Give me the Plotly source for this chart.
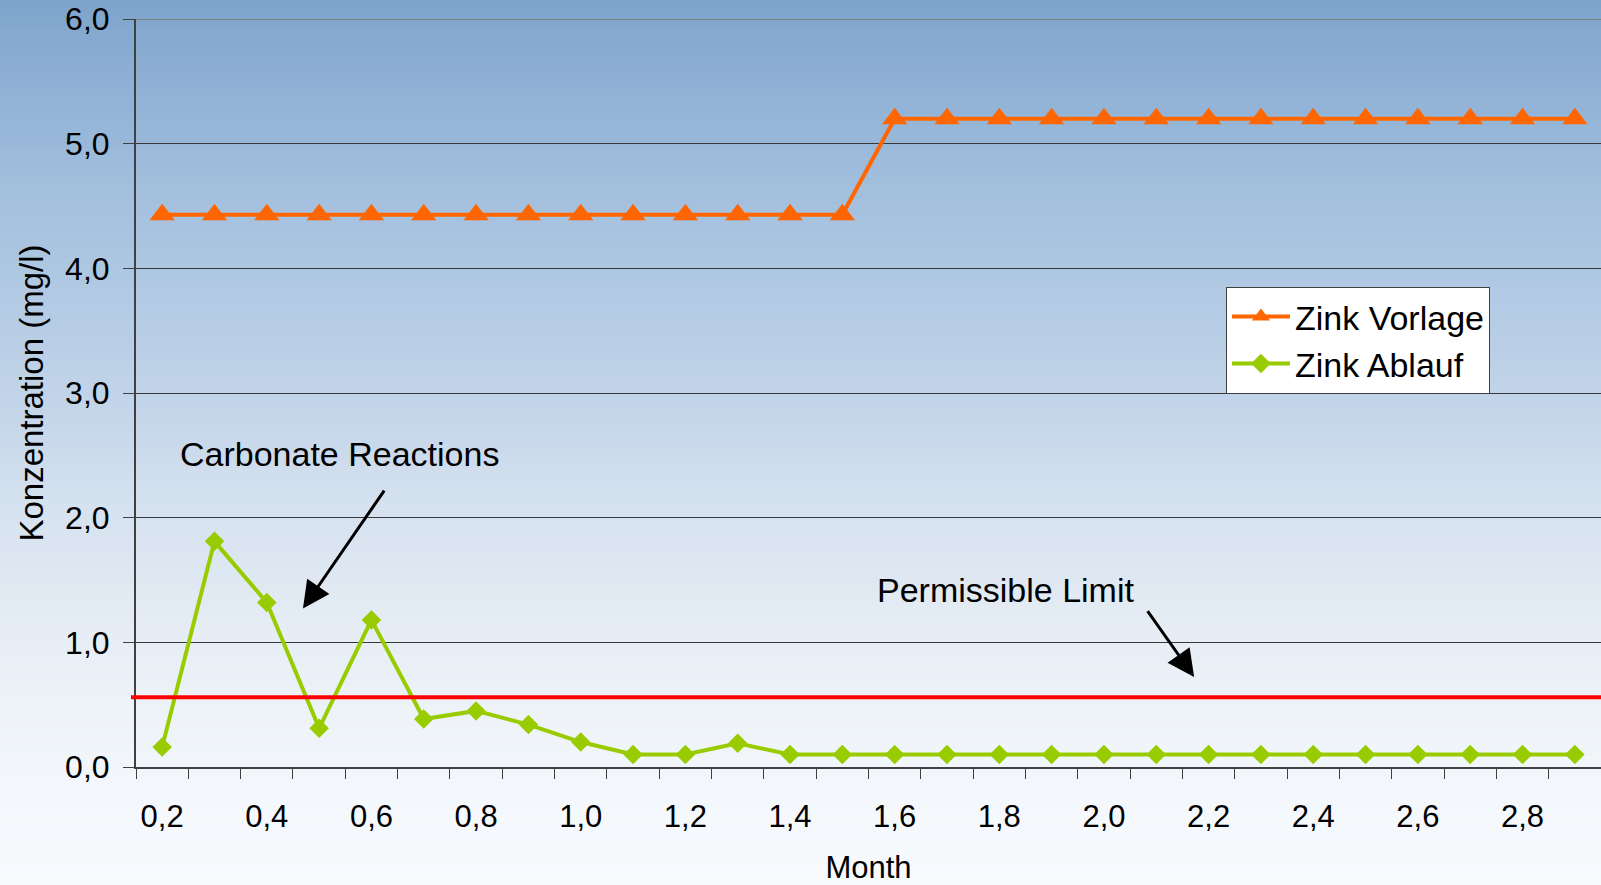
import plotly.graph_objects as go

# Sampling months and measured zinc concentrations (mg/l)
month = [0.2, 0.3, 0.4, 0.5, 0.6, 0.7, 0.8, 0.9, 1.0, 1.1, 1.2, 1.3, 1.4, 1.5,
         1.6, 1.7, 1.8, 1.9, 2.0, 2.1, 2.2, 2.3, 2.4, 2.5, 2.6, 2.7, 2.8, 2.9]
zink_vorlage = [4.43, 4.43, 4.43, 4.43, 4.43, 4.43, 4.43, 4.43, 4.43, 4.43, 4.43, 4.43, 4.43, 4.43,
                5.20, 5.20, 5.20, 5.20, 5.20, 5.20, 5.20, 5.20, 5.20, 5.20, 5.20, 5.20, 5.20, 5.20]
zink_ablauf = [0.16, 1.81, 1.32, 0.31, 1.18, 0.385, 0.45, 0.34, 0.20, 0.10, 0.10, 0.19, 0.10, 0.10,
               0.10, 0.10, 0.10, 0.10, 0.10, 0.10, 0.10, 0.10, 0.10, 0.10, 0.10, 0.10, 0.10, 0.10]
permissible_limit = 0.56
x_labels = [0.2, 0.4, 0.6, 0.8, 1.0, 1.2, 1.4, 1.6, 1.8, 2.0, 2.2, 2.4, 2.6, 2.8]
y_labels = [0, 1, 2, 3, 4, 5, 6]

W, H = 1601, 885
M_L, M_R, M_T, M_B = 136, 0, 19, 118
X_RANGE = [0.15, 2.95]
Y_RANGE = [0, 6]
FONT = "Liberation Sans, Arial, sans-serif"

fig = go.Figure()

fig.add_trace(go.Scatter(
    x=month, y=zink_vorlage, name="Zink Vorlage", mode="lines+markers",
    line=dict(color="#FF6600", width=4),
    marker=dict(symbol="triangle-up", size=22, color="#FF6600"),
))
fig.add_trace(go.Scatter(
    x=month, y=zink_ablauf, name="Zink Ablauf", mode="lines+markers",
    line=dict(color="#99CC00", width=4),
    marker=dict(symbol="diamond", size=15, color="#99CC00"),
))

# Background: soft vertical blue-to-white gradient across the whole canvas
stops = [(0, (126, 164, 203)), (100, (146, 179, 214)), (200, (164, 192, 222)),
         (300, (178, 202, 227)), (400, (194, 212, 233)), (500, (212, 225, 239)),
         (600, (226, 234, 243)), (700, (237, 242, 248)), (800, (244, 248, 252)),
         (885, (248, 251, 254))]
plot_h = H - M_T - M_B
plot_w = W - M_L - M_R


def py_to_paper(py):
    return (H - M_B - py) / plot_h


def color_at(py):
    for (y0, c0), (y1, c1) in zip(stops[:-1], stops[1:]):
        if y0 <= py <= y1:
            t = (py - y0) / (y1 - y0)
            return "rgb(%d,%d,%d)" % tuple(round(a + (b - a) * t) for a, b in zip(c0, c1))
    return "rgb(%d,%d,%d)" % stops[-1][1]


shapes = []
step = 6
for py in range(0, H, step):
    shapes.append(dict(
        type="rect", xref="paper", yref="paper", layer="below",
        x0=-M_L / plot_w - 0.01, x1=1.01,
        y0=py_to_paper(py + step + 1), y1=py_to_paper(py),
        fillcolor=color_at(py + step / 2), line=dict(width=0),
    ))

# Top border of the plot area
shapes.append(dict(type="line", xref="paper", yref="y", x0=0, x1=1, y0=6, y1=6,
                   line=dict(color="#7f7f7f", width=2), layer="above"))
# Permissible limit line
shapes.append(dict(type="line", xref="paper", yref="y", x0=-5 / plot_w, x1=1,
                   y0=permissible_limit, y1=permissible_limit,
                   line=dict(color="#FF0000", width=4), layer="above"))

annotations = [
    dict(text="Carbonate Reactions", x=0.5395, y=2.51, xref="x", yref="y",
         showarrow=False, font=dict(size=34, color="black", family=FONT)),
    dict(text="", x=0.4691, y=1.271, ax=0.6264, ay=2.229, xref="x", yref="y",
         axref="x", ayref="y", showarrow=True, arrowhead=2, arrowsize=1.8,
         arrowwidth=3, arrowcolor="black"),
    dict(text="Permissible Limit", x=1.8123, y=1.42, xref="x", yref="y",
         showarrow=False, font=dict(size=34, color="black", family=FONT)),
    dict(text="", x=2.1724, y=0.722, ax=2.0814, ay=1.263, xref="x", yref="y",
         axref="x", ayref="y", showarrow=True, arrowhead=2, arrowsize=1.8,
         arrowwidth=3, arrowcolor="black"),
]

fig.update_layout(
    width=W, height=H, autosize=False,
    margin=dict(l=M_L, r=M_R, t=M_T, b=M_B, pad=0),
    paper_bgcolor="white", plot_bgcolor="rgba(0,0,0,0)",
    separators=",.",
    font=dict(family=FONT, size=31, color="black"),
    shapes=shapes, annotations=annotations,
    legend=dict(x=0.744, y=0.642, xanchor="left", yanchor="top",
                bgcolor="white", bordercolor="#404040", borderwidth=1,
                itemwidth=58,
                font=dict(size=34, color="black", family=FONT)),
    xaxis=dict(
        range=X_RANGE, showgrid=False, zeroline=False,
        showline=True, linecolor="#404040", linewidth=2,
        tickmode="array", tickvals=x_labels, tickformat=".1f",
        ticks="", ticklabelstandoff=21,
        tickfont=dict(size=31, color="black"),
        minor=dict(tick0=0.15, dtick=0.1, ticks="outside", ticklen=10,
                   tickwidth=1, tickcolor="#404040", showgrid=False),
        title=dict(text="Month", font=dict(size=31, color="black"), standoff=25),
    ),
    yaxis=dict(
        range=Y_RANGE, showgrid=True, gridcolor="#383838", gridwidth=1,
        zeroline=False, showline=True, linecolor="#404040", linewidth=2,
        tickmode="array", tickvals=y_labels, tickformat=".1f",
        ticks="outside", ticklen=11, tickwidth=1, tickcolor="#404040",
        ticklabelstandoff=7,
        tickfont=dict(size=32, color="black"),
        title=dict(text="Konzentration (mg/l)", font=dict(size=33, color="black"), standoff=12),
    ),
)

fig.write_html("out.html")
